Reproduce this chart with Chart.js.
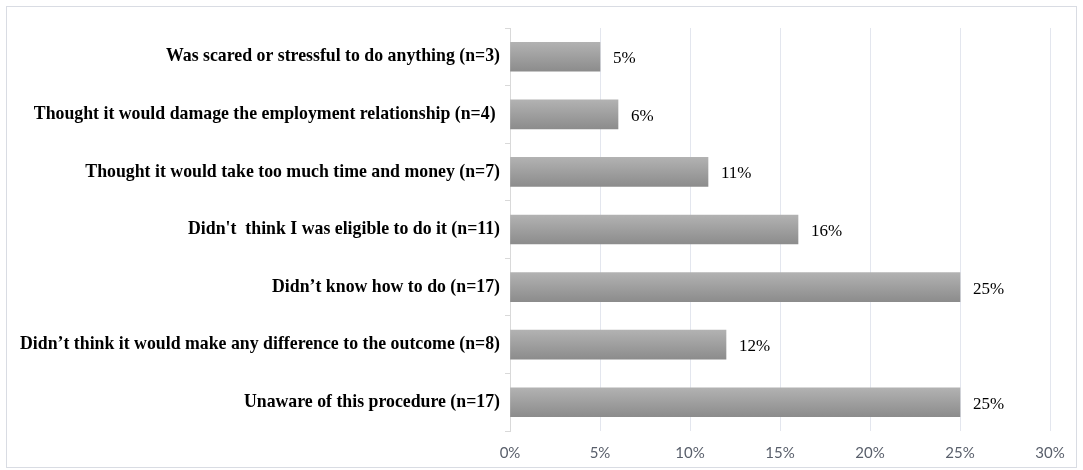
<!DOCTYPE html>
<html><head><meta charset="utf-8">
<script src="https://cdn.jsdelivr.net/npm/chart.js@4/dist/chart.umd.min.js"></script>
<style>html,body{margin:0;padding:0;background:#fff}#wrap{width:1083px;height:470px;position:relative}</style>
</head><body><div id="wrap"><canvas id="c" width="1083" height="470"></canvas></div>
<script>
const categories = [
  "Was scared or stressful to do anything (n=3)",
  "Thought it would damage the employment relationship (n=4) ",
  "Thought it would take too much time and money (n=7)",
  "Didn't  think I was eligible to do it (n=11)",
  "Didn\u2019t know how to do (n=17)",
  "Didn\u2019t think it would make any difference to the outcome (n=8)",
  "Unaware of this procedure (n=17)"
];
const values = [5, 6, 11, 16, 25, 12, 25];
const xTicks = [0, 5, 10, 15, 20, 25, 30];

const BAR_H = 29;

const frame = {
  id: 'frame',
  beforeDraw(chart) {
    const ctx = chart.ctx;
    ctx.save();
    ctx.fillStyle = '#fff';
    ctx.fillRect(0, 0, chart.width, chart.height);
    ctx.strokeStyle = '#d9dce3';
    ctx.lineWidth = 1;
    ctx.strokeRect(6.5, 6.5, 1070, 461);
    ctx.restore();
  }
};
const dataLabels = {
  id: 'dataLabels',
  afterDatasetsDraw(chart) {
    const ctx = chart.ctx;
    const meta = chart.getDatasetMeta(0);
    ctx.save();
    ctx.font = '17px "Liberation Serif", serif';
    ctx.fillStyle = '#000';
    ctx.textBaseline = 'middle';
    ctx.textAlign = 'left';
    meta.data.forEach((bar, i) => {
      ctx.fillText(values[i] + '%', bar.x + 13, bar.y + 2);
    });
    ctx.restore();
  }
};

function barFill(c) {
  const ch = c.chart;
  const ys = ch.scales && ch.scales.y;
  if (!ys || c.dataIndex === undefined) return '#9e9e9e';
  const yc = ys.getPixelForValue(c.dataIndex);
  if (!isFinite(yc)) return '#9e9e9e';
  const g = ch.ctx.createLinearGradient(0, yc - BAR_H / 2, 0, yc + BAR_H / 2);
  g.addColorStop(0, '#b2b2b2');
  g.addColorStop(1, '#8c8c8c');
  return g;
}

const ctx = document.getElementById('c').getContext('2d');
new Chart(ctx, {
  type: 'bar',
  data: {
    labels: categories,
    datasets: [{
      data: values,
      backgroundColor: barFill,
      borderWidth: 0,
      barThickness: BAR_H
    }]
  },
  options: {
    indexAxis: 'y',
    responsive: false,
    animation: false,
    layout: { padding: { left: 0, right: 33, top: 28, bottom: 0 } },
    plugins: { legend: { display: false }, tooltip: { enabled: false } },
    scales: {
      x: {
        min: 0, max: 30,
        afterBuildTicks: (s) => { s.ticks = xTicks.map(v => ({ value: v })); },
        afterFit: (s) => { s.height = 39; },
        ticks: {
          callback: (v) => v + '%',
          color: '#595f6b',
          font: { family: 'Lato, "Open Sans", sans-serif', size: 15 },
          padding: 13
        },
        grid: { color: '#e3e6ee', drawTicks: false },
        border: { display: false }
      },
      y: {
        afterFit: (s) => { s.width = 510; },
        ticks: {
          color: '#000',
          font: { family: '"Liberation Serif", serif', size: 17.8, weight: 'bold' },
          padding: 5
        },
        grid: { display: true, drawOnChartArea: false, offset: true, tickLength: 5, color: '#d9d9d9' },
        border: { display: true, color: '#d9d9d9' }
      }
    }
  },
  plugins: [frame, dataLabels]
});
</script></body></html>
